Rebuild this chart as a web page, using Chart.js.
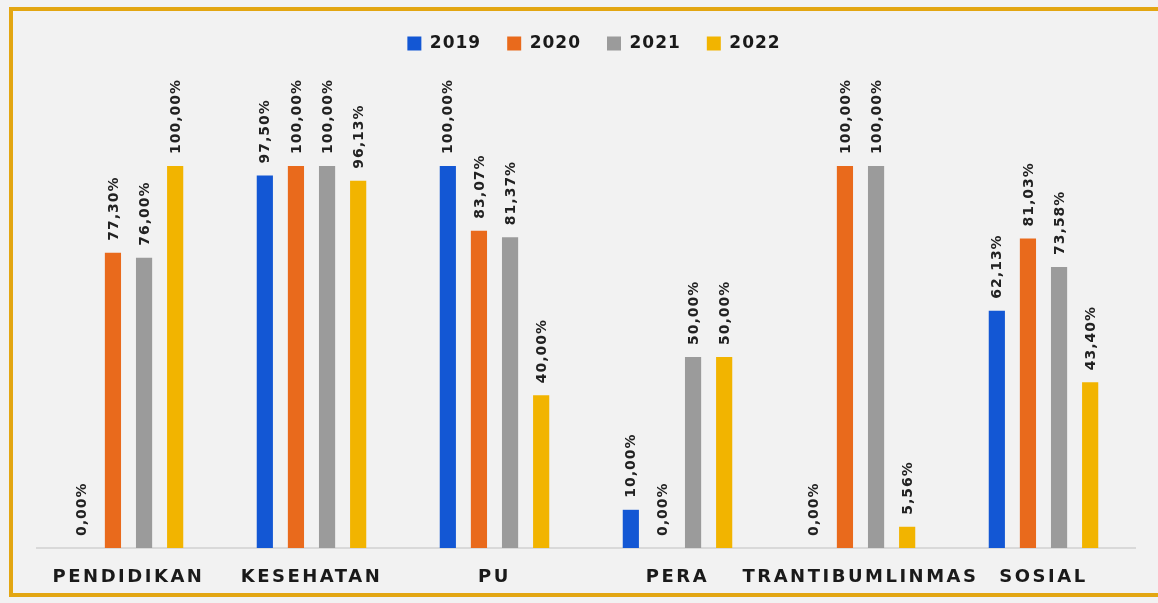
<!DOCTYPE html>
<html>
<head>
<meta charset="utf-8">
<script src="https://cdn.jsdelivr.net/npm/chart.js@4.4.0/dist/chart.umd.min.js"></script>
<style>
    html, body { margin: 0; padding: 0; background: #f2f2f2; }
    #wrap { position: relative; width: 1158px; height: 603px; overflow: hidden; }
    #frame { position: absolute; left: 9px; top: 7px; width: 1170px; height: 590px; border: 4px solid #e3a612; box-sizing: border-box; pointer-events: none; }
    canvas { position: absolute; left: 0; top: 0; }
</style>
</head>
<body>
<div id="wrap">
    <canvas id="chart" width="1158" height="603"></canvas>
    <div id="frame"></div>
</div>
<script>
"use strict";

// Data
const categories = ['PENDIDIKAN', 'KESEHATAN', 'PU', 'PERA', 'TRANTIBUMLINMAS', 'SOSIAL'];
const years = ['2019', '2020', '2021', '2022'];
const values2019 = [0, 97.50, 100, 10.00, 0, 62.13];
const values2020 = [77.30, 100, 83.07, 0, 100, 81.03];
const values2021 = [76.00, 100, 81.37, 50.00, 100, 73.58];
const values2022 = [100, 96.13, 40.00, 50.00, 5.56, 43.40];
const colours = ['#1357d4', '#e96a1c', '#9b9b9b', '#f2b400'];

const allValues = [values2019, values2020, values2021, values2022];

// draws the rotated value labels above each bar
const valueLabels = {
    id: 'valueLabels',
    afterDatasetsDraw(chart) {
        const ctx = chart.ctx;
        chart.data.datasets.forEach((ds, i) => {
            const meta = chart.getDatasetMeta(i);
            meta.data.forEach((bar, j) => {
                let txt = ds.data[j].toFixed(2).replace('.', ',') + '%';
                ctx.save();
                ctx.translate(bar.x + 1, bar.y - 12);
                ctx.rotate(-Math.PI / 2);
                ctx.font = 'bold 14px "DejaVu Sans"';
                ctx.letterSpacing = '1px';
                ctx.fillStyle = '#222222';
                ctx.textAlign = 'left';
                ctx.textBaseline = 'middle';
                ctx.fillText(txt, 0, 0);
                ctx.restore();
            });
        });
    }
};

// letter spacing for legend and x labels, plus room under the legend
const spacing = {
    id: 'spacing',
    beforeInit(chart) {
        const fit = chart.legend.fit;
        chart.legend.fit = function () {
            fit.call(this);
            this.height = 157;
        };
        const draw = chart.legend.draw;
        chart.legend.draw = function (a) {
            chart.ctx.save();
            chart.ctx.letterSpacing = '1px';
            draw.call(this, a);
            chart.ctx.restore();
        };
    },
    afterLayout(chart) {
        const x = chart.scales.x;
        if (x._spaced) return;
        const drawLabels = x.drawLabels;
        x.drawLabels = function (a) {
            chart.ctx.save();
            chart.ctx.letterSpacing = '2.5px';
            drawLabels.call(this, a);
            chart.ctx.restore();
        };
        x._spaced = true;
    }
};

let datasets = [];
for (let i = 0; i < years.length; i++) {
    datasets.push({
        label: years[i],
        data: allValues[i],
        backgroundColor: colours[i],
        borderWidth: 0,
        barPercentage: 0.52,
        categoryPercentage: 0.68
    });
}

new Chart(document.getElementById('chart').getContext('2d'), {
    type: 'bar',
    data: { labels: categories, datasets: datasets },
    plugins: [spacing, valueLabels],
    options: {
        responsive: false,
        animation: false,
        layout: { padding: { top: 9, left: 37, right: 23, bottom: 0 } },
        plugins: {
            tooltip: { enabled: false },
            legend: {
                position: 'top',
                labels: {
                    boxWidth: 14,
                    boxHeight: 14,
                    padding: 26,
                    color: '#1a1a1a',
                    font: { family: '"DejaVu Sans"', size: 17, weight: 'bold' }
                }
            }
        },
        scales: {
            x: {
                grid: { display: false, drawTicks: false },
                border: { display: true, color: '#d9d9d9', width: 2 },
                afterFit(scale) { scale.height = 55; },
                ticks: {
                    autoSkip: false,
                    maxRotation: 0,
                    padding: 19,
                    color: '#1a1a1a',
                    font: { family: '"DejaVu Sans"', size: 18, weight: 'bold' }
                }
            },
            y: {
                display: false,
                min: 0,
                max: 100
            }
        }
    }
});
</script>
</body>
</html>
